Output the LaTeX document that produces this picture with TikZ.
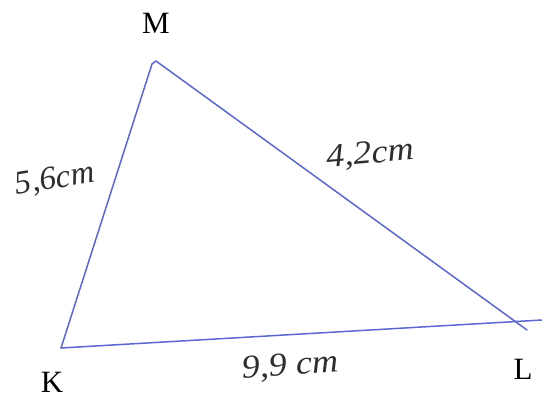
\documentclass[tikz,border=0pt]{standalone}
\usepackage{fontspec}
\setmainfont{Liberation Serif}
\definecolor{pen}{RGB}{92,102,212}
\definecolor{ink}{RGB}{45,45,50}
\tikzset{
  side/.style={draw=pen, line width=1.5pt, line cap=round, line join=round},
  vlabel/.style={font=\fontsize{31}{31}\selectfont, inner sep=0pt, text=black},
  hand/.style={font=\fontsize{33}{33}\selectfont\itshape, inner sep=0pt, text=ink}
}
\begin{document}
\begin{tikzpicture}[x=1pt,y=-1pt]
\useasboundingbox (0,0) rectangle (542,398);
\coordinate (K) at (61,348);
\coordinate (Mk) at (152,64);
\coordinate (M) at (156,61);
\coordinate (L) at (527,330);
\coordinate (Lend) at (542,320);
\draw[side] (K) -- (Mk) -- (M) -- (L);
\draw[side] (K) -- (Lend);
\node[vlabel] (labM) at (156,23) {M};
\node[vlabel] (labK) at (52,382) {K};
\node[vlabel] (labL) at (523,369) {L};
\node[hand, rotate=9] (a) at (55,180) {5,6cm};
\node[hand, rotate=5, xscale=1.1] (b) at (370,155) {4,2cm};
\node[hand, rotate=4, xscale=1.1] (c) at (290,367) {9,9 cm};
\end{tikzpicture}
\end{document}
